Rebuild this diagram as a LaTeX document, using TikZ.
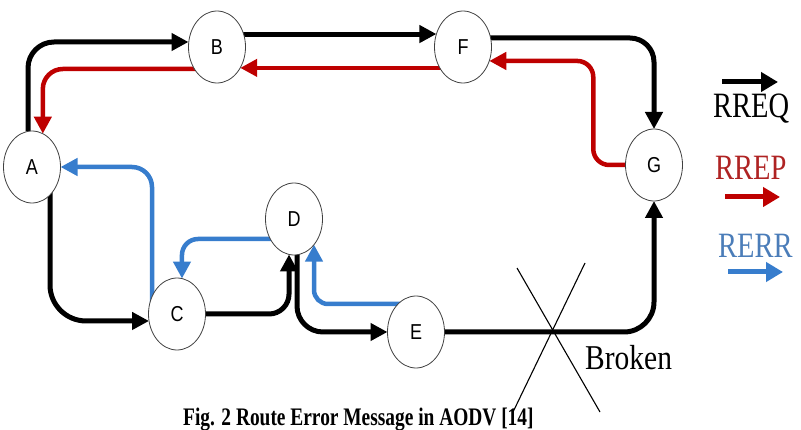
\documentclass[tikz,border=0pt]{standalone}
\usepackage{fontspec}
\usepackage{graphicx}
\setmainfont{Liberation Serif}
\newfontfamily\nodefont{Liberation Sans}
\usetikzlibrary{shapes.geometric,arrows.meta,backgrounds}
\newcommand\vstretch[2]{\scalebox{1}[#1]{#2}}
\definecolor{rrepred}{RGB}{190,0,0}
\definecolor{rerrblue}{RGB}{55,125,205}
\definecolor{reptext}{RGB}{175,35,35}
\definecolor{errtext}{RGB}{75,125,185}
\tikzset{
  nd/.style={ellipse, draw=black!75, line width=0.8pt, fill=white,
    minimum width=57pt, minimum height=72pt, inner sep=0pt, outer sep=0pt,
    font=\nodefont\fontsize{18}{18}\selectfont},
  tip/.style={-{Triangle[length=17pt,width=17pt]}},
  blk/.style={tip, draw=black, line width=5pt},
  rrep/.style={tip, draw=rrepred, line width=4.5pt},
  rerr/.style={tip, draw=rerrblue, line width=4.5pt},
  legtip/.style={-{Triangle[length=17pt,width=19pt]}, line width=5pt},
  legtext/.style={anchor=base west, inner sep=0pt, font=\fontsize{28.5}{28.5}\selectfont},
  crossline/.style={draw=black, line width=1.1pt}
}
\begin{document}
\begin{tikzpicture}[x=1pt,y=-1pt]
\useasboundingbox (0,0) rectangle (801,430);
% nodes
\node[nd] (A) at (32,167) {\vstretch{1.2}{A}};
\node[nd] (B) at (217,47) {\vstretch{1.2}{B}};
\node[nd] (F) at (463,47) {\vstretch{1.2}{F}};
\node[nd] (G) at (654,165) {\vstretch{1.2}{G}};
\node[nd] (D) at (294,219) {\vstretch{1.2}{D}};
\node[nd] (C) at (177,314) {\vstretch{1.2}{C}};
\node[nd] (E) at (416,332) {\vstretch{1.2}{E}};
\begin{pgfonlayer}{background}
% RREQ (black)
\draw[blk, rounded corners=26pt] ([xshift=-4pt]A.north) |- ([yshift=5pt]B.west);
\draw[blk] (B.center |- F.154) -- (F.154);
\draw[blk, rounded corners=24pt] ([yshift=9pt]F.center) -| (G.north);
\draw[blk, rounded corners=36pt] ([xshift=18pt]A.center) |- (C.194);
\draw[blk, rounded corners=20pt] (C.center) -| (D.262);
\draw[blk, rounded corners=26pt] ([xshift=3pt]D.center) |- (E.west);
\draw[blk, rounded corners=30pt] (E.center) -| (G.south);
% RREP (red)
\draw[rrep, rounded corners=16pt] (G.center) -| ([xshift=104pt]F.-28) -- (F.-28);
\draw[rrep] (F.center |- B.-42) -- (B.-42);
\draw[rrep, rounded corners=20pt] ([yshift=-22pt]B.center) -| (A.72);
% RERR (blue)
\draw[rerr, rounded corners=14pt] ([yshift=28pt]E.center) -| (D.-52);
\draw[rerr, rounded corners=16pt] ([yshift=-20pt]D.center) -| (C.82);
\draw[rerr, rounded corners=20pt] ([xshift=-25pt]C.center) |- (A.east);
\end{pgfonlayer}
% broken link cross
\draw[crossline] (517,268) -- (600,412);
\draw[crossline] (585,263) -- (513,412);
\node[anchor=base west, inner sep=0pt, font=\fontsize{29.5}{29.5}\selectfont] (broken) at (585,370) {\vstretch{1.18}{Broken}};
% legend
\coordinate (l1s) at (722,82);
\coordinate (l1e) at (778,82);
\coordinate (l2s) at (725,197);
\coordinate (l2e) at (780,197);
\coordinate (l3s) at (728,272);
\coordinate (l3e) at (783,272);
\draw[legtip, draw=black] (l1s) -- (l1e);
\draw[legtip, draw=rrepred] (l2s) -- (l2e);
\draw[legtip, draw=rerrblue] (l3s) -- (l3e);
\node[legtext, text=black] (lreq) at (713,118) {\vstretch{1.25}{RREQ}};
\node[legtext, text=reptext] (lrep) at (715,180) {\vstretch{1.25}{RREP}};
\node[legtext, text=errtext] (lerr) at (718,258) {\vstretch{1.25}{RERR}};
% caption
\node[anchor=base west, inner sep=0pt, font=\bfseries\fontsize{19.4}{19.4}\selectfont] (cap) at (183,425) {\vstretch{1.3}{Fig. 2 Route Error Message in AODV [14]}};
\end{tikzpicture}
\end{document}
